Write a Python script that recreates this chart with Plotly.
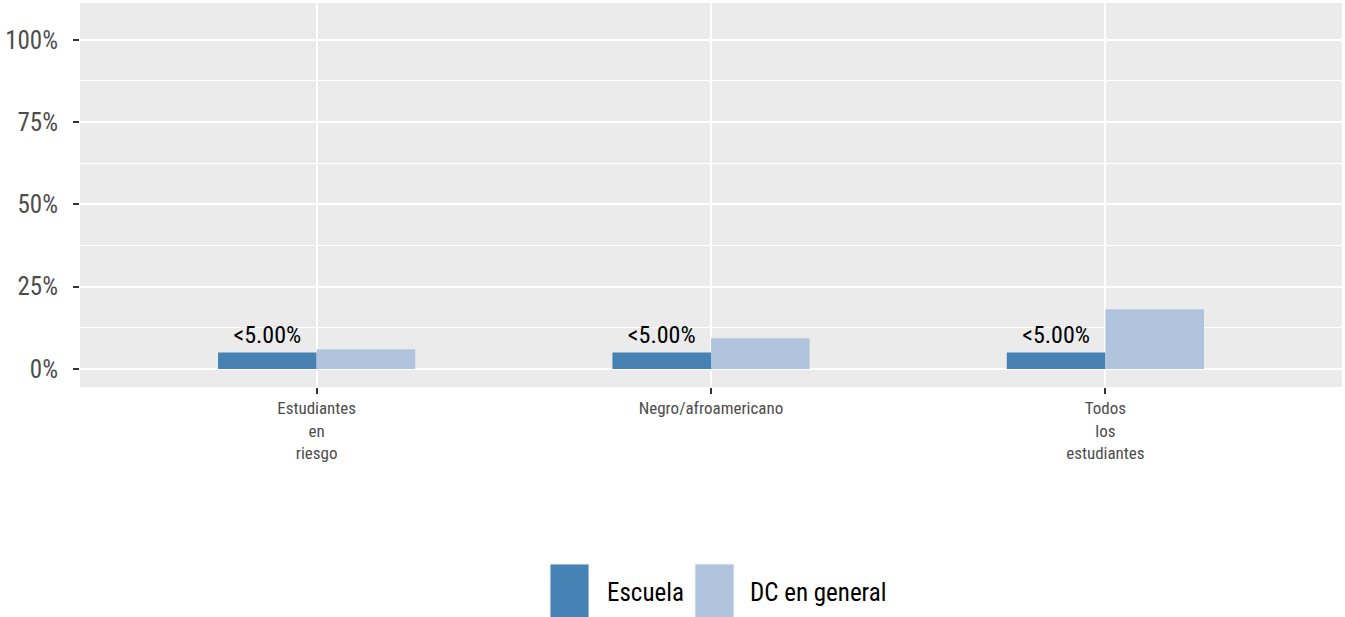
import plotly.graph_objects as go

categories = ["Estudiantes<br>en<br>riesgo", "Negro/afroamericano", "Todos<br>los<br>estudiantes"]
escuela = [5.0, 5.0, 5.0]
escuela_labels = ["<5.00%", "<5.00%", "<5.00%"]
dc_general = [6.0, 9.3, 18.1]
y_ticks = [0, 25, 50, 75, 100]
y_tick_labels = ["0%", "25%", "50%", "75%", "100%"]

FONT = "Liberation Sans Narrow, Arial Narrow, Roboto Condensed, sans-serif"
C_ESC = "#4682B4"
C_DC = "#B0C4DE"

W, H = 1345, 617
L, R, T, B = 80, 1342, 3, 387


def px_x(x):
    return (x - L) / (R - L)


def px_y(y):
    return (B - y) / (B - T)


xs = [1, 2, 3]

fig = go.Figure()
fig.add_trace(go.Bar(
    x=xs, y=escuela, name="Escuela", marker=dict(color=C_ESC, line=dict(width=0)),
    text=escuela_labels, textposition="outside", constraintext="none", cliponaxis=False,
    textfont=dict(family=FONT, size=24, color="black"), showlegend=False,
))
fig.add_trace(go.Bar(
    x=xs, y=dc_general, name="DC en general", marker=dict(color=C_DC, line=dict(width=0)),
    showlegend=False,
))

# Manual legend (ggplot-style large keys)
shapes = []
annotations = []
legend_items = [("Escuela", C_ESC, 550, 589, 605), ("DC en general", C_DC, 695, 734, 748)]
for name, col, x0, x1, tx in legend_items:
    shapes.append(dict(type="rect", xref="paper", yref="paper",
                       x0=px_x(x0), x1=px_x(x1), y0=px_y(564), y1=px_y(622),
                       fillcolor=col, line=dict(color="#F2F2F2", width=1), layer="above"))
    annotations.append(dict(text=name, xref="paper", yref="paper", x=px_x(tx), y=px_y(592),
                            xanchor="left", yanchor="middle", showarrow=False,
                            font=dict(family=FONT, size=25, color="black")))

fig.update_layout(
    width=W, height=H,
    margin=dict(l=L, r=W - R, t=T, b=H - B),
    paper_bgcolor="white", plot_bgcolor="#EBEBEB",
    barmode="group", bargap=0.5, bargroupgap=0,
    showlegend=False,
    shapes=shapes, annotations=annotations,
    font=dict(family=FONT),
    xaxis=dict(
        range=[0.4, 3.6], tickmode="array", tickvals=xs, ticktext=categories,
        showgrid=True, gridcolor="white", gridwidth=2, zeroline=False,
        ticks="outside", ticklen=6, tickwidth=1.5, tickcolor="#333333",
        tickfont=dict(family=FONT, size=17, color="#4D4D4D"), showline=False,
    ),
    yaxis=dict(
        range=[-5.5, 111.2], tickmode="array", tickvals=y_ticks, ticktext=y_tick_labels,
        showgrid=True, gridcolor="white", gridwidth=2, zeroline=False,
        minor=dict(dtick=12.5, tick0=0, showgrid=True, gridcolor="white", gridwidth=1),
        ticks="outside", ticklen=6, tickwidth=2, tickcolor="#333333",
        tickfont=dict(family=FONT, size=25, color="#4D4D4D"), showline=False,
        ticklabelstandoff=10,
    ),
)

fig.write_html("out.html", config={"displayModeBar": False},
               post_script="document.body.style.margin='0';document.body.style.overflow='hidden';")
